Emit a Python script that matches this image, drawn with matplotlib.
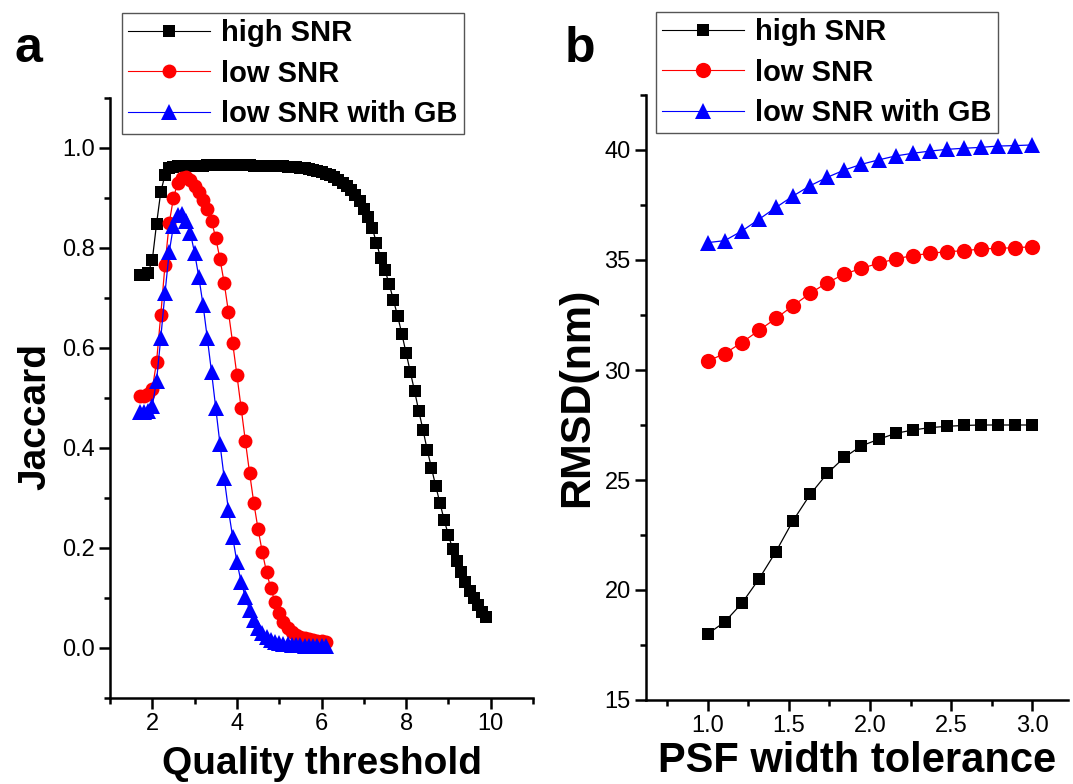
import numpy as np
import matplotlib
matplotlib.use("Agg")
import matplotlib.pyplot as plt
from matplotlib.ticker import MultipleLocator

plt.rcParams['font.family'] = ['Liberation Sans', 'DejaVu Sans']

# ---------------- Panel a data ----------------
qt_high = np.round(np.arange(1.7, 9.95, 0.1), 1)
jac_high = [0.746, 0.746, 0.750, 0.776, 0.848, 0.912, 0.946, 0.960, 0.963, 0.964,
            0.965, 0.965, 0.965,
            0.965, 0.965, 0.965, 0.966, 0.966, 0.966, 0.966, 0.966, 0.966, 0.966,
            0.966, 0.966, 0.966, 0.966, 0.965, 0.965, 0.965, 0.965, 0.965, 0.964, 0.964,
            0.964, 0.963, 0.963, 0.962, 0.961, 0.960, 0.958, 0.956, 0.954, 0.952,
            0.949, 0.946, 0.942, 0.937, 0.931, 0.924, 0.916, 0.906, 0.894, 0.879,
            0.862, 0.840, 0.810, 0.780, 0.756, 0.728, 0.696, 0.664, 0.628, 0.590,
            0.552, 0.514, 0.474, 0.436, 0.396, 0.360, 0.324, 0.290, 0.256, 0.226,
            0.198, 0.174, 0.152, 0.132, 0.114, 0.100, 0.086, 0.072, 0.062]

qt_low = np.round(np.arange(1.7, 6.15, 0.1), 1)
jac_low = [0.505, 0.505, 0.508, 0.518, 0.572, 0.666, 0.766, 0.850, 0.900, 0.930,
           0.940, 0.942, 0.936, 0.925, 0.912, 0.896, 0.878, 0.854, 0.820, 0.778,
           0.730, 0.672, 0.610, 0.546, 0.480, 0.414, 0.350, 0.290, 0.238, 0.192,
           0.152, 0.120, 0.092, 0.070, 0.052, 0.040, 0.032, 0.027, 0.023, 0.020,
           0.018, 0.016, 0.015, 0.014, 0.012]
jac_gb = [0.472, 0.472, 0.474, 0.484, 0.534, 0.620, 0.710, 0.792, 0.844, 0.866,
          0.868, 0.855, 0.830, 0.790, 0.742, 0.686, 0.620, 0.552, 0.480, 0.408,
          0.340, 0.276, 0.222, 0.172, 0.132, 0.102, 0.076, 0.056, 0.040, 0.030,
          0.022, 0.017, 0.013, 0.011, 0.009, 0.008, 0.007, 0.006, 0.006, 0.005,
          0.005, 0.005, 0.004, 0.004, 0.004]

# ---------------- Panel b data ----------------
psf_tol = [1.0, 1.105, 1.211, 1.316, 1.421, 1.526, 1.632, 1.737, 1.842, 1.947,
           2.053, 2.158, 2.263, 2.368, 2.474, 2.579, 2.684, 2.789, 2.895, 3.0]
rmsd_high = [18.0, 18.55, 19.4, 20.5, 21.75, 23.15, 24.35, 25.3, 26.03, 26.55,
             26.85, 27.12, 27.27, 27.38, 27.44, 27.48, 27.5, 27.5, 27.5, 27.5]
rmsd_low = [30.4, 30.75, 31.25, 31.8, 32.35, 32.92, 33.49, 33.97, 34.36, 34.62,
            34.85, 35.05, 35.2, 35.3, 35.38, 35.42, 35.5, 35.53, 35.56, 35.6]
rmsd_gb = [35.79, 35.88, 36.32, 36.85, 37.39, 37.91, 38.38, 38.76, 39.09, 39.35,
           39.55, 39.73, 39.85, 39.95, 40.03, 40.08, 40.12, 40.18, 40.2, 40.23]

labels = ['high SNR', 'low SNR', 'low SNR with GB']

W, H = 1073, 784
fig = plt.figure(figsize=(W / 100, H / 100), dpi=100)

def px_axes(l, r, t, b):
    return fig.add_axes([l / W, 1 - b / H, (r - l) / W, (b - t) / H])

axa = px_axes(110, 533, 98, 698)
axb = px_axes(646, 1068, 95, 700)

def style(ax):
    for s in ['top', 'right']:
        ax.spines[s].set_visible(False)
    for s in ['left', 'bottom']:
        ax.spines[s].set_linewidth(1.8)
    ax.tick_params(which='major', direction='out', length=8, width=1.8,
                   labelsize=17, pad=3)
    ax.tick_params(which='minor', direction='out', length=4, width=1.8)

# Panel a
ms_kw = dict(linewidth=0.9)
axa.plot(qt_high, jac_high, color='black', marker='s', markersize=9,
         markeredgewidth=0, label=labels[0], **ms_kw)
axa.plot(qt_low, jac_low, color='red', marker='o', markersize=10,
         markeredgewidth=0, label=labels[1], **ms_kw)
axa.plot(qt_low, jac_gb, color='blue', marker='^', markersize=11,
         markeredgewidth=0, label=labels[2], **ms_kw)
axa.set_xlim(1, 11)
axa.set_ylim(-0.1, 1.1)
axa.xaxis.set_major_locator(MultipleLocator(2))
axa.xaxis.set_minor_locator(MultipleLocator(1))
axa.set_yticks([0.0, 0.2, 0.4, 0.6, 0.8, 1.0])
axa.set_yticks([-0.1, 0.1, 0.3, 0.5, 0.7, 0.9, 1.1], minor=True)
axa.set_yticklabels(['0.0', '0.2', '0.4', '0.6', '0.8', '1.0'])
style(axa)
axa.set_xlabel('Quality threshold', fontsize=28, fontweight='bold')
axa.set_ylabel('Jaccard', fontsize=28, fontweight='bold')
axa.xaxis.set_label_coords(0.5, -0.08)
axa.yaxis.set_label_coords(-0.135, 0.47)

# Panel b
axb.plot(psf_tol, rmsd_high, color='black', marker='s', markersize=9,
         markeredgewidth=0, label=labels[0], **ms_kw)
axb.plot(psf_tol, rmsd_low, color='red', marker='o', markersize=11,
         markeredgewidth=0, label=labels[1], **ms_kw)
axb.plot(psf_tol, rmsd_gb, color='blue', marker='^', markersize=12,
         markeredgewidth=0, label=labels[2], **ms_kw)
axb.set_xlim(0.62, 3.22)
axb.set_ylim(15, 42.5)
axb.set_xticks([1.0, 1.5, 2.0, 2.5, 3.0])
axb.set_xticklabels(['1.0', '1.5', '2.0', '2.5', '3.0'])
axb.xaxis.set_minor_locator(MultipleLocator(0.25))
axb.yaxis.set_major_locator(MultipleLocator(5))
axb.yaxis.set_minor_locator(MultipleLocator(2.5))
style(axb)
axb.set_xlabel('PSF width tolerance', fontsize=30, fontweight='bold')
axb.set_ylabel('RMSD(nm)', fontsize=31, fontweight='bold')
axb.xaxis.set_label_coords(0.5, -0.068)
axb.yaxis.set_label_coords(-0.115, 0.5)

leg_kw = dict(prop={'weight': 'bold', 'size': 21}, frameon=True, fancybox=False,
              edgecolor='#555555', framealpha=1, borderpad=0.22,
              handlelength=2.8, handletextpad=0.37, labelspacing=0.42,
              borderaxespad=0, loc='upper left')
la = axa.legend(bbox_to_anchor=(122 / W, 1 - 13 / H), bbox_transform=fig.transFigure, **leg_kw)
lb = axb.legend(bbox_to_anchor=(656 / W, 1 - 12 / H), bbox_transform=fig.transFigure, **leg_kw)
for lg in (la, lb):
    lg.get_frame().set_linewidth(1.0)
    for ln in lg.get_lines():
        ln.set_linewidth(0.8)

fig.text(14 / W, 1 - 62 / H, 'a', fontsize=36, fontweight='bold', va='baseline')
fig.text(565 / W, 1 - 62 / H, 'b', fontsize=36, fontweight='bold', va='baseline')

fig.savefig('out.png', dpi=100)
